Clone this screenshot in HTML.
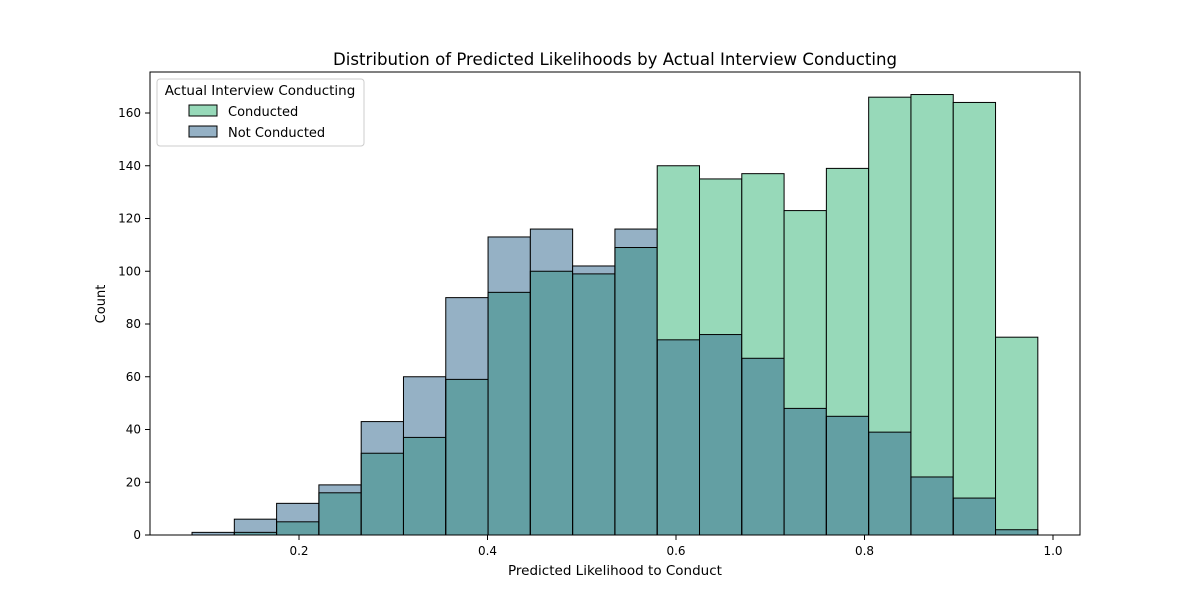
<!DOCTYPE html>
<html><head><meta charset="utf-8"><style>
body{margin:0;background:#fff;font-family:"Liberation Sans","DejaVu Sans",sans-serif}
</style></head><body>
<svg id="chart" width="1200" height="600" xmlns="http://www.w3.org/2000/svg" font-family="DejaVu Sans, Liberation Sans, sans-serif">
<rect width="1200" height="600" fill="#fff"/>
<text x="615" y="65" text-anchor="middle" font-size="16.6">Distribution of Predicted Likelihoods by Actual Interview Conducting</text>
<g id="bars"></g>
<g id="axes"></g>
<rect x="150" y="72" width="930" height="463" fill="none" stroke="#000" stroke-width="1"/>
<text x="615" y="575" text-anchor="middle" font-size="13.5">Predicted Likelihood to Conduct</text>
<text x="105" y="304" text-anchor="middle" font-size="13" transform="rotate(-90 105 304)">Count</text>
<g>
<rect x="157" y="79" width="207" height="67" rx="3" fill="#fff" stroke="#ccc"/>
<text x="260" y="95" text-anchor="middle" font-size="13.5">Actual Interview Conducting</text>
<rect x="189" y="105" width="28" height="11" fill="#97d9b9" stroke="#000"/>
<text x="228" y="116" font-size="13">Conducted</text>
<rect x="189" y="126" width="28" height="11" fill="#95b1c5" stroke="#000"/>
<text x="228" y="137" font-size="13">Not Conducted</text>
</g>
</svg>
<script>
const binStart = 0.0865;
const binWidth = 0.04487;
const conducted = [0,1,5,16,31,37,59,92,100,99,109,140,135,137,123,139,166,167,164,75];
const notConducted = [1,6,12,19,43,60,90,113,116,102,116,74,76,67,48,45,39,22,14,2];
const xTicks = [0.2,0.4,0.6,0.8,1.0];
const xTickLabels = ["0.2","0.4","0.6","0.8","1.0"];
const yTicks = [0,20,40,60,80,100,120,140,160];

const NS="http://www.w3.org/2000/svg";
function xs(v){return 299+(v-0.2)*942.5;}
function ys(v){return 535-v*422/160;}
function mk(tag,attrs,parent){const e=document.createElementNS(NS,tag);for(const k in attrs)e.setAttribute(k,attrs[k]);parent.appendChild(e);return e;}
const bars=document.getElementById('bars'), axes=document.getElementById('axes');
for(let i=0;i<conducted.length;i++){
  const x0=xs(binStart+i*binWidth), x1=xs(binStart+(i+1)*binWidth), w=x1-x0;
  const c=conducted[i], n=notConducted[i], m=Math.min(c,n);
  if(c>0){const r=mk('rect',{x:x0,y:ys(c),width:w,height:ys(0)-ys(c),fill:'#97d9b9'},bars);
    
    }
  if(n>0){const r=mk('rect',{x:x0,y:ys(n),width:w,height:ys(0)-ys(n),fill:'#95b1c5'},bars);
    
    }
  if(m>0){const r=mk('rect',{x:x0,y:ys(m),width:w,height:ys(0)-ys(m),fill:'#639fa3'},bars);
    
    }
  [c,n].forEach(v=>{if(v>0){const r=mk('rect',{x:x0,y:ys(v),width:w,height:ys(0)-ys(v),fill:'none',stroke:'#000','stroke-width':1},bars);
    
    }});
}
xTicks.forEach((t,i)=>{
  const x=xs(t);
  const l=mk('line',{x1:x,x2:x,y1:535,y2:540,stroke:'#000'},axes);
  
  
  const tx=mk('text',{x:x,y:555,'text-anchor':'middle','font-size':12},axes);
  tx.textContent=xTickLabels[i];
  
  
});
yTicks.forEach(t=>{
  const y=ys(t);
  const l=mk('line',{x1:145,x2:150,y1:y,y2:y,stroke:'#000'},axes);
  
  
  const tx=mk('text',{x:141,y:y+4,'text-anchor':'end','font-size':12},axes);
  tx.textContent=String(t);
  
  
});
</script>
</body></html>
